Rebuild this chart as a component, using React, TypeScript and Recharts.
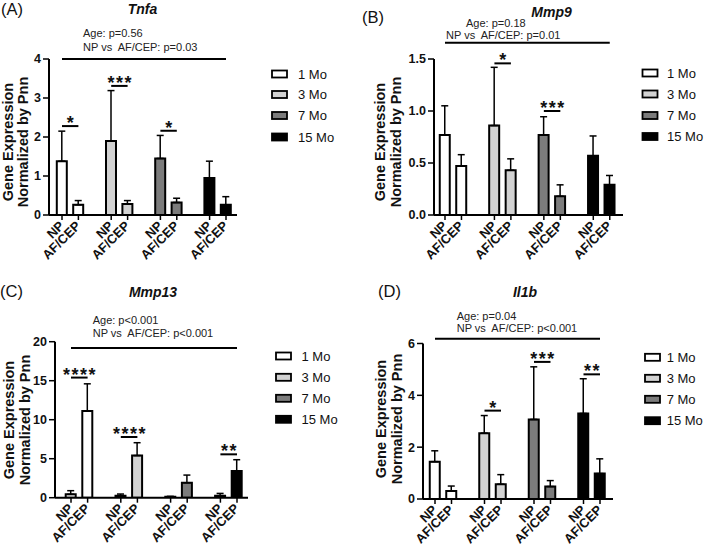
import React from 'react';
import { BarChart, Bar, XAxis, YAxis, ErrorBar, Cell, ReferenceLine } from 'recharts';

const FONT = '"Liberation Sans", Arial, Helvetica, sans-serif';

// ---------- data ----------
const ageGroups = ['1 Mo', '3 Mo', '7 Mo', '15 Mo'];
const ageColors = ['#ffffff', '#d2d2d2', '#7c7c7c', '#000000'];
const tissues = ['NP', 'AF/CEP'];

// order per group: NP, AF/CEP
const tnfaMean = [1.38, 0.26, 1.9, 0.28, 1.45, 0.32, 0.95, 0.26];
const tnfaUpper = [2.15, 0.37, 3.19, 0.37, 2.04, 0.43, 1.38, 0.47];
const tnfaTicks = [0, 1, 2, 3, 4];
const tnfaSig = [
  { group: 0, y: 2.28, stars: '*' },
  { group: 1, y: 3.31, stars: '***' },
  { group: 2, y: 2.16, stars: '*' },
];
const tnfaStats = ['Age: p=0.56', 'NP vs  AF/CEP: p=0.03'];
const tnfaTopLine = 4;

const mmp9Mean = [0.77, 0.47, 0.86, 0.43, 0.77, 0.18, 0.57, 0.29];
const mmp9Upper = [1.05, 0.58, 1.42, 0.54, 0.945, 0.29, 0.76, 0.38];
const mmp9Ticks = [0, 0.5, 1, 1.5];
const mmp9Sig = [
  { group: 1, y: 1.458, stars: '*' },
  { group: 2, y: 1.0, stars: '***' },
];
const mmp9Stats = ['Age: p=0.18', 'NP vs  AF/CEP: p=0.01'];
const mmp9TopLine = 1.657;

const mmp13Mean = [0.43, 11.1, 0.26, 5.4, 0.13, 1.92, 0.26, 3.42];
const mmp13Upper = [0.9, 14.6, 0.47, 7.05, 0.17, 2.9, 0.55, 4.87];
const mmp13Ticks = [0, 5, 10, 15, 20];
const mmp13Sig = [
  { group: 0, y: 15.4, stars: '****' },
  { group: 1, y: 7.78, stars: '****' },
  { group: 3, y: 5.56, stars: '**' },
];
const mmp13Stats = ['Age: p<0.001', 'NP vs  AF/CEP: p<0.001'];
const mmp13TopLine = 19.2;

const il1bMean = [1.44, 0.31, 2.54, 0.57, 3.07, 0.48, 3.3, 0.98];
const il1bUpper = [1.86, 0.5, 3.22, 0.94, 5.1, 0.71, 4.64, 1.55];
const il1bTicks = [0, 2, 4, 6];
const il1bSig = [
  { group: 1, y: 3.41, stars: '*' },
  { group: 2, y: 5.29, stars: '***' },
  { group: 3, y: 4.81, stars: '**' },
];
const il1bStats = ['Age: p=0.04', 'NP vs  AF/CEP: p<0.001'];
const il1bTopLine = 6.18;

const yLabelLines = ['Gene Expression', 'Normalized by Pnn'];

// ---------- helpers ----------
function buildData(means: number[], uppers: number[]) {
  const rows: any[] = [];
  for (let g = 0; g < ageGroups.length; g++) {
    for (let t = 0; t < tissues.length; t++) {
      const i = g * tissues.length + t;
      rows.push({ id: `${g}-${t}`, group: g, mean: means[i], err: [0, uppers[i] - means[i]] });
    }
    if (g < ageGroups.length - 1) rows.push({ id: `gap-${g}`, group: -1, mean: null });
  }
  return rows;
}

const XTick = (props: any) => {
  const { x, y, payload } = props;
  const v = String(payload.value);
  if (v.startsWith('gap')) return <g />;
  const t = Number(v.split('-')[1]);
  const ax = x + 3;
  const ay = y + 11.5;
  return (
    <g>
      <line x1={x} y1={y} x2={x} y2={y + 5} stroke="#000" strokeWidth={1.5} />
      <text
        x={ax}
        y={ay}
        textAnchor="end"
        transform={`rotate(-45 ${ax} ${ay})`}
        fontSize={13}
        fontWeight="bold"
        fontFamily={FONT}
        fill="#111"
      >
        {tissues[t]}
      </text>
    </g>
  );
};

const StarLabel = (props: any) => {
  const { viewBox, text } = props;
  if (!viewBox) return null;
  const cx = viewBox.x + (viewBox.width || 0) / 2;
  return (
    <text
      x={cx + 0.8}
      y={viewBox.y + 3}
      textAnchor="middle"
      fontSize={18}
      fontWeight="bold"
      fontFamily={FONT}
      letterSpacing={1.5}
      fill="#111"
    >
      {text}
    </text>
  );
};

type Layout = {
  ox: number; oy: number; w: number; h: number;
  plotL: number; plotR: number; plotT: number; plotB: number;
  padL: number; padR: number;
};

const Y_AXIS_W = 40;
const X_AXIS_H = 45;

function Panel(props: {
  means: number[]; uppers: number[]; ticks: number[]; decimals: number;
  sig: { group: number; y: number; stars: string }[]; topLine: number; layout: Layout;
}) {
  const { means, uppers, ticks, decimals, sig, topLine, layout: L } = props;
  const data = buildData(means, uppers);
  const margin = {
    top: L.plotT - L.oy,
    left: L.plotL - L.ox - Y_AXIS_W,
    right: L.ox + L.w - L.plotR,
    bottom: L.oy + L.h - L.plotB - X_AXIS_H,
  };
  return (
    <div style={{ position: 'absolute', left: L.ox, top: L.oy, width: L.w, height: L.h }}>
      <BarChart width={L.w} height={L.h} data={data} margin={margin} barCategoryGap={0} style={{ overflow: 'visible' }}>
        <XAxis
          dataKey="id"
          type="category"
          interval={0}
          tick={<XTick />}
          tickLine={false}
          tickSize={0}
          tickMargin={0}
          height={X_AXIS_H}
          axisLine={{ stroke: '#000', strokeWidth: 2 }}
          padding={{ left: L.padL, right: L.padR }}
        />
        <YAxis
          type="number"
          domain={[ticks[0], ticks[ticks.length - 1]]}
          ticks={ticks}
          allowDataOverflow
          width={Y_AXIS_W}
          tickSize={6}
          tickMargin={2}
          axisLine={{ stroke: '#000', strokeWidth: 2 }}
          tickLine={{ stroke: '#000', strokeWidth: 1.5 }}
          tick={{ fill: '#111', fontSize: 12.5, fontWeight: 'bold', fontFamily: FONT }}
          tickFormatter={(v: number) => v.toFixed(decimals)}
        />
        <Bar dataKey="mean" barSize={10} stroke="#000" strokeWidth={2} isAnimationActive={false}>
          {data.map((d, i) => (
            <Cell key={i} fill={d.group >= 0 ? ageColors[d.group] : 'none'} stroke={d.group >= 0 ? '#000' : 'none'} />
          ))}
          <ErrorBar dataKey="err" width={3.5} stroke="#000" strokeWidth={1.5} direction="y" isAnimationActive={false} />
        </Bar>
        {sig.map((s, i) => (
          <ReferenceLine
            key={i}
            segment={[{ x: `${s.group}-0`, y: s.y }, { x: `${s.group}-1`, y: s.y }]}
            stroke="#000"
            strokeWidth={2}
            ifOverflow="visible"
            label={<StarLabel text={s.stars} />}
          />
        ))}
        <ReferenceLine
          segment={[{ x: '0-0', y: topLine }, { x: `${ageGroups.length - 1}-1`, y: topLine }]}
          stroke="#000"
          strokeWidth={2}
          ifOverflow="visible"
        />
      </BarChart>
    </div>
  );
}

// ---------- annotation layout ----------
type Notes = {
  letter: string; letterX: number; letterY: number;
  title: string; titleX: number; titleY: number;
  statsX: number[]; statsY: number[]; stats: string[];
  ylabX: number[]; ylabY: number;
  legBoxX: number; legTextX: number; legY: number[];
};

function Annotations({ n }: { n: Notes }) {
  return (
    <g fontFamily={FONT}>
      <text x={n.letterX} y={n.letterY} fontSize={16.5} dominantBaseline="central" fill="#111">{n.letter}</text>
      <text x={n.titleX} y={n.titleY} fontSize={14} fontWeight="bold" fontStyle="italic" textAnchor="middle" dominantBaseline="central" fill="#111">{n.title}</text>
      {n.stats.map((s, i) => (
        <text key={i} x={n.statsX[i]} y={n.statsY[i]} fontSize={11} dominantBaseline="central" fill="#222" style={{ whiteSpace: 'pre' }}>{s}</text>
      ))}
      {yLabelLines.map((s, i) => (
        <text key={i} x={n.ylabX[i]} y={n.ylabY} fontSize={14.5} fontWeight="bold" textAnchor="middle" dominantBaseline="central" transform={`rotate(-90 ${n.ylabX[i]} ${n.ylabY})`} fill="#111">{s}</text>
      ))}
      {ageGroups.map((g, i) => (
        <g key={g}>
          <rect x={n.legBoxX} y={n.legY[i] - 3.5} width={15} height={7} fill={ageColors[i]} stroke="#000" strokeWidth={1.8} />
          <text x={n.legTextX} y={n.legY[i]} fontSize={13} dominantBaseline="central" fill="#111">{g}</text>
        </g>
      ))}
    </g>
  );
}

const layoutA: Layout = { ox: 0, oy: 0, w: 354, h: 274, plotL: 49, plotR: 237, plotT: 59, plotB: 215, padL: 4.8, padR: 2.8 };
const layoutB: Layout = { ox: 355, oy: 0, w: 354, h: 274, plotL: 434, plotR: 623, plotT: 59, plotB: 215, padL: 2.75, padR: 5 };
const layoutC: Layout = { ox: 0, oy: 275, w: 354, h: 273, plotL: 55, plotR: 248, plotT: 341.7, plotB: 497.7, padL: 7.7, padR: 2.7 };
const layoutD: Layout = { ox: 355, oy: 275, w: 354, h: 273, plotL: 423, plotR: 613, plotT: 343.5, plotB: 499, padL: 3.75, padR: 4.75 };

const notesA: Notes = {
  letter: '(A)', letterX: 1, letterY: 9, title: 'Tnfa', titleX: 142.5, titleY: 8.5,
  stats: tnfaStats, statsX: [83, 83], statsY: [33, 47], ylabX: [7.5, 22.5], ylabY: 142,
  legBoxX: 272, legTextX: 298, legY: [74, 94.5, 115.5, 137],
};
const notesB: Notes = {
  letter: '(B)', letterX: 362, letterY: 17, title: 'Mmp9', titleX: 551.5, titleY: 11.5,
  stats: mmp9Stats, statsX: [466, 446], statsY: [23, 35], ylabX: [379.5, 395.5], ylabY: 142,
  legBoxX: 642.5, legTextX: 667, legY: [73, 94, 115.5, 136.5],
};
const notesC: Notes = {
  letter: '(C)', letterX: 0, letterY: 291, title: 'Mmp13', titleX: 153, titleY: 291.5,
  stats: mmp13Stats, statsX: [92.7, 92.7], statsY: [319.5, 332.5], ylabX: [9, 24.5], ylabY: 420,
  legBoxX: 276, legTextX: 301.5, legY: [356, 377.3, 398.3, 419.3],
};
const notesD: Notes = {
  letter: '(D)', letterX: 378, letterY: 291, title: 'Il1b', titleX: 525, titleY: 291.5,
  stats: il1bStats, statsX: [456.7, 456.7], statsY: [315.5, 328.3], ylabX: [380.7, 396.5], ylabY: 419,
  legBoxX: 645, legTextX: 666.7, legY: [357.3, 378.3, 399.3, 420.7],
};

export default function App() {
  return (
    <div style={{ position: 'absolute', left: 0, top: 0, width: 709, height: 548, background: '#fff', overflow: 'hidden' }}>
      <Panel means={tnfaMean} uppers={tnfaUpper} ticks={tnfaTicks} decimals={0} sig={tnfaSig} topLine={tnfaTopLine} layout={layoutA} />
      <Panel means={mmp9Mean} uppers={mmp9Upper} ticks={mmp9Ticks} decimals={1} sig={mmp9Sig} topLine={mmp9TopLine} layout={layoutB} />
      <Panel means={mmp13Mean} uppers={mmp13Upper} ticks={mmp13Ticks} decimals={0} sig={mmp13Sig} topLine={mmp13TopLine} layout={layoutC} />
      <Panel means={il1bMean} uppers={il1bUpper} ticks={il1bTicks} decimals={0} sig={il1bSig} topLine={il1bTopLine} layout={layoutD} />
      <svg width={709} height={548} style={{ position: 'absolute', left: 0, top: 0, pointerEvents: 'none' }}>
        <Annotations n={notesA} />
        <Annotations n={notesB} />
        <Annotations n={notesC} />
        <Annotations n={notesD} />
      </svg>
    </div>
  );
}
